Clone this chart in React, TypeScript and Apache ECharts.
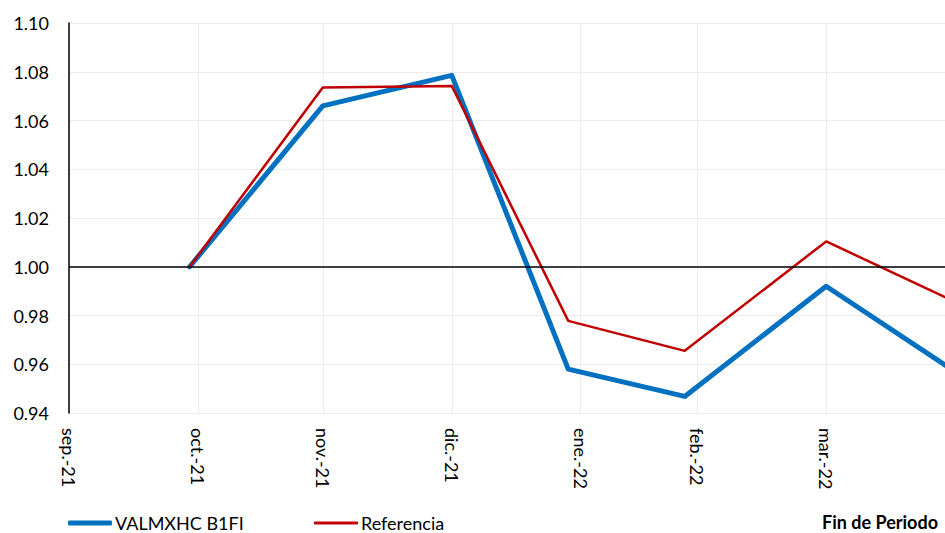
import React, { useEffect, useRef } from "react";
import * as echarts from "echarts";

// Data
const pointDates = ["2021-10-29", "2021-11-30", "2021-12-31", "2022-01-28", "2022-02-25", "2022-03-31", "2022-04-29"];
const fundValues = [1.0, 1.066, 1.0785, 0.958, 0.9468, 0.992, 0.9592];
const refValues = [1.0, 1.0735, 1.0742, 0.9778, 0.9655, 1.0104, 0.9872];
const tickDates = ["2021-09-30", "2021-10-31", "2021-11-30", "2021-12-31", "2022-01-31", "2022-02-28", "2022-03-31"];
const tickLabels = ["sep.-21", "oct.-21", "nov.-21", "dic.-21", "ene.-22", "feb.-22", "mar.-22"];
const axisStartDate = "2021-09-30";
const axisEndDate = "2022-04-30";
const seriesNames = ["VALMXHC B1FI", "Referencia"];
const yTicks = { min: 0.94, max: 1.1, interval: 0.02 };
const baseline = 1.0;
const axisTitle = "Fin de Periodo";

const toDay = (s: string) =>
  (Date.parse(s + "T00:00:00Z") - Date.parse(axisStartDate + "T00:00:00Z")) / 86400000;

export default function App() {
  const ref = useRef<HTMLDivElement>(null);
  useEffect(() => {
    if (!ref.current) return;
    const chart = echarts.init(ref.current, undefined, { renderer: "svg" });
    const tickDays = tickDates.map(toDay);
    const font = "Lato";
    const legendBase = {
      top: 514,
      padding: 0,
      itemWidth: 44,
      icon: "roundRect",
      selectedMode: false,
      textStyle: { fontFamily: font, fontSize: 18, color: "#000", padding: [0, 0, 0, -2] },
    };
    chart.setOption({
      animation: false,
      textStyle: { fontFamily: font },
      grid: { left: 69, right: 9, top: 23, bottom: 120, containLabel: false },
      legend: [
        { ...legendBase, left: 68, itemHeight: 5, data: [seriesNames[0]] },
        { ...legendBase, left: 314, itemHeight: 3, data: [seriesNames[1]] },
      ],
      graphic: [
        {
          type: "text",
          right: 22,
          top: 513,
          style: { text: axisTitle, fontFamily: font, fontSize: 18, fontWeight: "bold", fill: "#000" },
        },
      ],
      xAxis: {
        type: "value",
        min: 0,
        max: toDay(axisEndDate),
        axisLine: { show: false },
        axisTick: { show: false, customValues: tickDays },
        axisLabel: {
          customValues: tickDays,
          rotate: -90,
          margin: 15,
          fontSize: 18,
          color: "#000",
          fontFamily: font,
          formatter: (v: number) => {
            const i = tickDays.findIndex((d) => Math.abs(d - v) < 0.5);
            return i >= 0 ? tickLabels[i] : "";
          },
        },
        splitLine: { show: true, lineStyle: { color: "#ececec", width: 1 } },
      },
      yAxis: {
        type: "value",
        min: yTicks.min,
        max: yTicks.max,
        interval: yTicks.interval,
        axisLine: { show: true, lineStyle: { color: "#000", width: 1.5 } },
        axisTick: { show: false },
        axisLabel: {
          margin: 20,
          fontSize: 18,
          color: "#000",
          fontFamily: font,
          formatter: (v: number) => v.toFixed(2),
        },
        splitLine: { show: true, lineStyle: { color: "#ececec", width: 1 } },
      },
      series: [
        {
          type: "line",
          data: [],
          z: 1,
          silent: true,
          markLine: {
            silent: true,
            symbol: ["none", "none"],
            label: { show: false },
            lineStyle: { color: "#000", width: 1.5, type: "solid" },
            data: [{ yAxis: baseline }],
          },
        },
        {
          name: seriesNames[0],
          type: "line",
          z: 2,
          symbol: "none",
          color: "#0070C0",
          itemStyle: { color: "#0070C0" },
          lineStyle: { color: "#0070C0", width: 5, cap: "round", join: "round" },
          emphasis: { disabled: true },
          data: pointDates.map((d, i) => [toDay(d), fundValues[i]]),
        },
        {
          name: seriesNames[1],
          type: "line",
          z: 3,
          symbol: "none",
          color: "#C00000",
          itemStyle: { color: "#C00000" },
          lineStyle: { color: "#C00000", width: 2.5, cap: "round", join: "round" },
          emphasis: { disabled: true },
          data: pointDates.map((d, i) => [toDay(d), refValues[i]]),
        },
      ],
    });
    return () => chart.dispose();
  }, []);
  return (
    <div style={{ position: "fixed", left: 0, top: 0, width: 945, height: 533, overflow: "hidden", background: "#fff" }}>
      <div ref={ref} style={{ width: 960, height: 533 }} />
    </div>
  );
}
